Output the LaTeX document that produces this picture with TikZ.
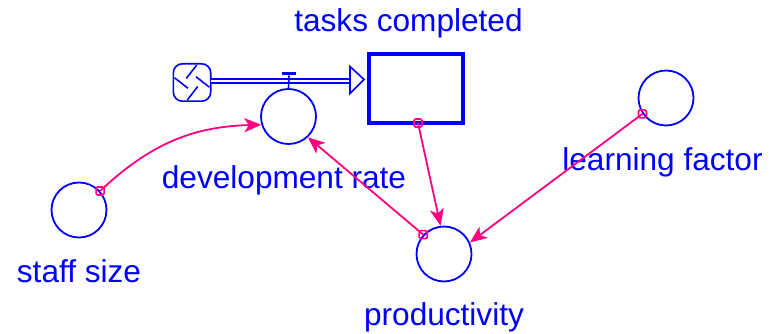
\documentclass[tikz,border=0pt]{standalone}
\usepackage{fontspec}
\setmainfont{Liberation Sans}
\usetikzlibrary{arrows.meta,calc}
\definecolor{vblue}{RGB}{0,0,255}
\definecolor{vpink}{RGB}{255,0,128}
\begin{document}
\begin{tikzpicture}[x=1pt,y=-1pt,
 lbl/.style={text=vblue,font=\fontsize{31.6}{36}\selectfont,inner sep=0pt,anchor=base},
 aux/.style={draw=vblue,line width=1.8pt,circle,minimum size=55pt,inner sep=0pt},
 link/.style={draw=vpink,line width=1.8pt,-{Stealth[length=17pt,width=14pt,inset=4.5pt]}},
 src/.style={draw=vpink,line width=1.6pt,rounded corners=1.5pt,minimum size=8pt,inner sep=0pt},
 bl/.style={draw=vblue,line width=1.6pt}]
\useasboundingbox (0,0) rectangle (770,334);
% stock and auxiliaries
\node[draw=vblue,line width=4pt,minimum width=94pt,minimum height=69pt,inner sep=0pt] (stock) at (416,88.5) {};
\node[aux] (dev) at (288.5,116.5) {};
\node[aux] (ss) at (79,210) {};
\node[aux] (prod) at (444,254) {};
\node[aux] (lf) at (666,98) {};
% cloud
\node[minimum size=37pt,inner sep=0pt] (cloud) at (192,82.5) {};
\draw[bl,rounded corners=9pt] (cloud.north west) rectangle (cloud.south east);
\foreach \a in {0,90,180,270}
  \draw[bl] ($(cloud)+(\a+15:18)$) .. controls ($(cloud)+(\a-5:10)$) .. ($(cloud)+(\a-55:7)$);
% flow pipe
\coordinate (pipeS) at (211,81);
\coordinate (pipeE) at (350,81);
\draw[vblue,line width=1.5pt,double=white,double distance=2.2pt] (pipeS) -- (pipeE);
\draw[bl,fill=white] ($(pipeE)+(0,-14.5)$) -- ($(pipeE)+(14,-1.5)$) -- ($(pipeE)+(0,12.5)$) -- cycle;
% valve
\fill[vblue] (282,72) rectangle (296,75.5);
\coordinate (valve) at (289,75.5);
\draw[bl] (valve) -- (dev.north);
% labels
\node[lbl] (tcl) at (408.5,32) {tasks completed};
\node[lbl] (drl) at (284,188) {development rate};
\node[lbl] (ssl) at (79,282) {staff size};
\node[lbl] (pl) at (444,325) {productivity};
\node[lbl] (lfl) at (662.5,170) {learning factor};
% links
\coordinate (s1) at ($(stock.south)+(2,-2)$);
\draw[link] (ss.42) to[bend left=21] (dev.197);
\draw[link] (s1) -- (prod.97);
\draw[link] (prod.137) -- (dev.-47);
\draw[link] (lf.214) -- (prod.24);
\node[src] at (ss.42) {};
\node[src] at (s1) {};
\node[src] at (prod.137) {};
\node[src] at (lf.214) {};
\end{tikzpicture}
\end{document}
